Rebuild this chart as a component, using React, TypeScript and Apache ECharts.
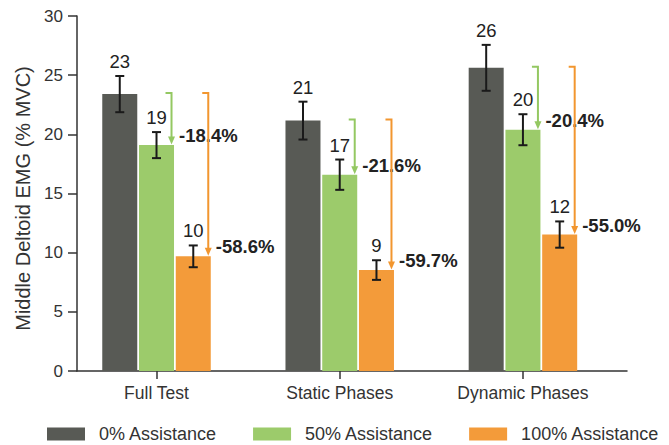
import React, { useEffect, useRef } from "react";
import * as echarts from "echarts";

const categories = ["Full Test", "Static Phases", "Dynamic Phases"];
const categoryPositions = [1, 2, 3];
const seriesNames = ["0% Assistance", "50% Assistance", "100% Assistance"];
const assist0 = [23.4, 21.16, 25.62];
const assist50 = [19.09, 16.59, 20.39];
const assist100 = [9.69, 8.53, 11.53];
const err0 = [1.53, 1.6, 1.94];
const err50 = [1.1, 1.28, 1.31];
const err100 = [0.92, 0.83, 1.11];
const change50 = [-18.4, -21.6, -20.4];
const change100 = [-58.6, -59.7, -55.0];
const yTicks = [0, 5, 10, 15, 20, 25, 30];

const COLORS = ["#585a55", "#9ccb6b", "#f39b3a"];
const ARROW_COLORS = ["#585a55", "#94c862", "#f2962f"];
const FONT = "'Liberation Sans', Arial, Helvetica, sans-serif";
const BAR_W = 35;
const BAR_GAP = 1.75;
const BAR_STEP = BAR_W + BAR_GAP;

export default function App() {
  const ref = useRef<HTMLDivElement>(null);
  useEffect(() => {
    if (!ref.current) return;
    const chart = echarts.init(ref.current, undefined, { renderer: "svg" });
    const means = [assist0, assist50, assist100];
    const errs = [err0, err50, err100];
    const changes = [null, change50, change100];

    const errData: number[][] = [];
    means.forEach((arr, s) =>
      arr.forEach((m, c) => errData.push([categoryPositions[c], s, m, errs[s][c]]))
    );
    const arrowData: number[][] = [];
    [1, 2].forEach((s) =>
      means[s].forEach((m, c) =>
        arrowData.push([categoryPositions[c], s, assist0[c], m, (changes[s] as number[])[c]])
      )
    );

    const option: any = {
      animation: false,
      textStyle: { fontFamily: FONT },
      grid: { left: 77, right: 42, top: 16, bottom: 74, outerBoundsMode: "none", containLabel: false },
      legend: {
        data: seriesNames,
        left: 47,
        top: 425,
        width: 640,
        padding: 0,
        itemWidth: 38,
        itemHeight: 13,
        itemGap: 36,
        icon: "rect",
        textStyle: { fontSize: 18, color: "#333", fontFamily: FONT, padding: [0, 0, 0, 9] },
      },
      xAxis: {
        type: "value",
        min: 0.566,
        max: 3.568,
        splitLine: { show: false },
        axisLine: { show: true, onZero: false, lineStyle: { color: "#333", width: 1.5 } },
        axisTick: {
          show: true,
          customValues: categoryPositions,
          length: 8,
          lineStyle: { color: "#333", width: 1.5 },
        },
        axisLabel: {
          customValues: categoryPositions,
          formatter: (v: number) => categories[categoryPositions.indexOf(Math.round(v))] ?? "",
          fontSize: 17.5,
          color: "#333",
          margin: 13,
          fontFamily: FONT,
        },
      },
      yAxis: {
        type: "value",
        min: 0,
        max: 30,
        interval: 5,
        name: "Middle Deltoid EMG (% MVC)",
        nameLocation: "middle",
        nameGap: 44,
        nameTextStyle: { fontSize: 20, color: "#333", fontFamily: FONT, padding: [0, 0, 0, -10] },
        splitLine: { show: false },
        axisLine: { show: true, lineStyle: { color: "#333", width: 1.5 } },
        axisTick: { show: true, length: 9, lineStyle: { color: "#333", width: 1.5 } },
        axisLabel: {
          fontSize: 17,
          color: "#333",
          margin: 14,
          fontFamily: FONT,
          formatter: (v: number) => (yTicks.includes(v) ? String(v) : ""),
        },
      },
      series: [
        ...means.map((arr, s) => ({
          name: seriesNames[s],
          type: "bar",
          barWidth: BAR_W,
          barGap: (BAR_GAP / BAR_W) * 100 + "%",
          itemStyle: { color: COLORS[s] },
          data: arr.map((m, c) => [categoryPositions[c], m]),
          z: 2,
        })),
        {
          name: "errors",
          type: "custom",
          z: 5,
          encode: { x: 0, y: 2 },
          data: errData,
          renderItem: (params: any, api: any) => {
            const x = api.value(0);
            const s = api.value(1);
            const m = api.value(2);
            const e = api.value(3);
            const p = api.coord([x, m]);
            const pt = api.coord([x, m + e]);
            const pb = api.coord([x, m - e]);
            const cx = p[0] + (s - 1) * BAR_STEP;
            const stroke = { stroke: "#1a1a1a", lineWidth: 2 };
            return {
              type: "group",
              children: [
                { type: "line", shape: { x1: cx, y1: pt[1], x2: cx, y2: pb[1] }, style: stroke },
                { type: "line", shape: { x1: cx - 4.5, y1: pt[1], x2: cx + 4.5, y2: pt[1] }, style: stroke },
                { type: "line", shape: { x1: cx - 4.5, y1: pb[1], x2: cx + 4.5, y2: pb[1] }, style: stroke },
                {
                  type: "text",
                  x: cx,
                  y: pt[1] - 5,
                  style: {
                    text: String(Math.round(m)),
                    fill: "#222",
                    font: `18.5px ${FONT}`,
                    align: "center",
                    verticalAlign: "bottom",
                  },
                },
              ],
            };
          },
        },
        {
          name: "arrows",
          type: "custom",
          z: 6,
          encode: { x: 0, y: 3 },
          data: arrowData,
          renderItem: (params: any, api: any) => {
            const x = api.value(0);
            const s = api.value(1);
            const from = api.value(2);
            const to = api.value(3);
            const pct = api.value(4);
            const pf = api.coord([x, from]);
            const pto = api.coord([x, to]);
            const barRight = pf[0] + (s - 1) * BAR_STEP + BAR_W / 2;
            const ax = barRight - 2.5;
            const y0 = pf[1] - 1;
            const tip = pto[1] - 0.5;
            const col = ARROW_COLORS[s];
            return {
              type: "group",
              children: [
                {
                  type: "polyline",
                  shape: { points: [[ax - 6, y0], [ax, y0], [ax, tip - 7]] },
                  style: { stroke: col, lineWidth: 2, fill: "none" },
                },
                {
                  type: "polygon",
                  shape: { points: [[ax - 3.5, tip - 8], [ax + 3.5, tip - 8], [ax, tip]] },
                  style: { fill: col },
                },
                {
                  type: "text",
                  x: barRight + 5,
                  y: pto[1] - 9.5,
                  style: {
                    text: `${pct.toFixed(1)}%`,
                    fill: "#222",
                    font: `bold 18.5px ${FONT}`,
                    align: "left",
                    verticalAlign: "middle",
                  },
                },
              ],
            };
          },
        },
      ],
    };
    chart.setOption(option);
    return () => chart.dispose();
  }, []);
  return (
    <div
      ref={ref}
      style={{ position: "fixed", left: 0, top: 0, width: 669, height: 445, background: "#fff" }}
    />
  );
}
